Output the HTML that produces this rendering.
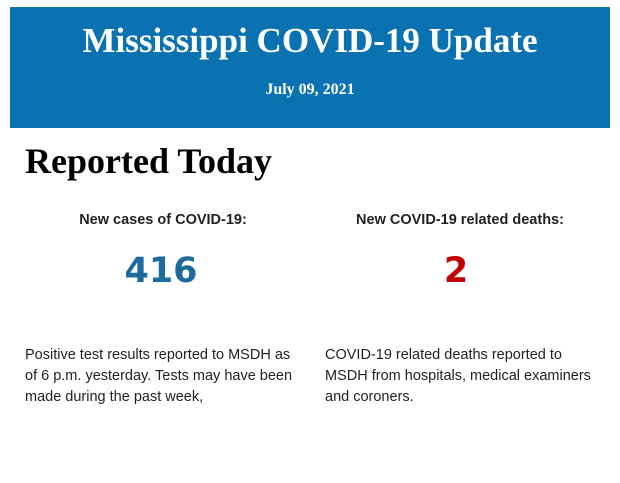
<!DOCTYPE html>
<html><head><style>
body{margin:0;width:620px;height:483px;background:#fff;position:relative;overflow:hidden;font-family:"Liberation Sans",sans-serif}
.hdr{position:absolute;left:10px;top:7px;width:600px;height:121px;background:#0a72b0;color:#fff;text-align:center;font-family:"Liberation Serif",serif;font-weight:bold}
.t{position:absolute;left:0;right:0;top:14px;font-size:35px}
.d{position:absolute;left:0;right:0;top:74px;font-size:16px}
h1{position:absolute;left:25px;top:140px;margin:0;font-family:"Liberation Serif",serif;font-size:36px;font-weight:bold}
.lab{position:absolute;top:212px;font-size:14.5px;font-weight:bold;color:#222;text-align:center;width:300px}
.num{position:absolute;top:251px;font-size:35px;font-weight:bold;text-align:center;width:300px;font-family:"DejaVu Sans","Liberation Sans",sans-serif}
.p{position:absolute;top:345px;font-size:14.5px;line-height:21px;color:#222;width:274px}
</style></head><body>
<div class="hdr"><div class="t">Mississippi COVID-19 Update</div><div class="d">July 09, 2021</div></div>
<h1>Reported Today</h1>
<div class="lab" style="left:13px">New cases of COVID-19:</div>
<div class="lab" style="left:310px">New COVID-19 related deaths:</div>
<div class="num" style="left:11px;color:#1d6a9c">416</div>
<div class="num" style="left:306px;color:#c00000">2</div>
<div class="p" style="left:25px">Positive test results reported to MSDH as of 6 p.m. yesterday. Tests may have been made during the past week,</div>
<div class="p" style="left:325px">COVID-19 related deaths reported to MSDH from hospitals, medical examiners and coroners.</div>
</body></html>
